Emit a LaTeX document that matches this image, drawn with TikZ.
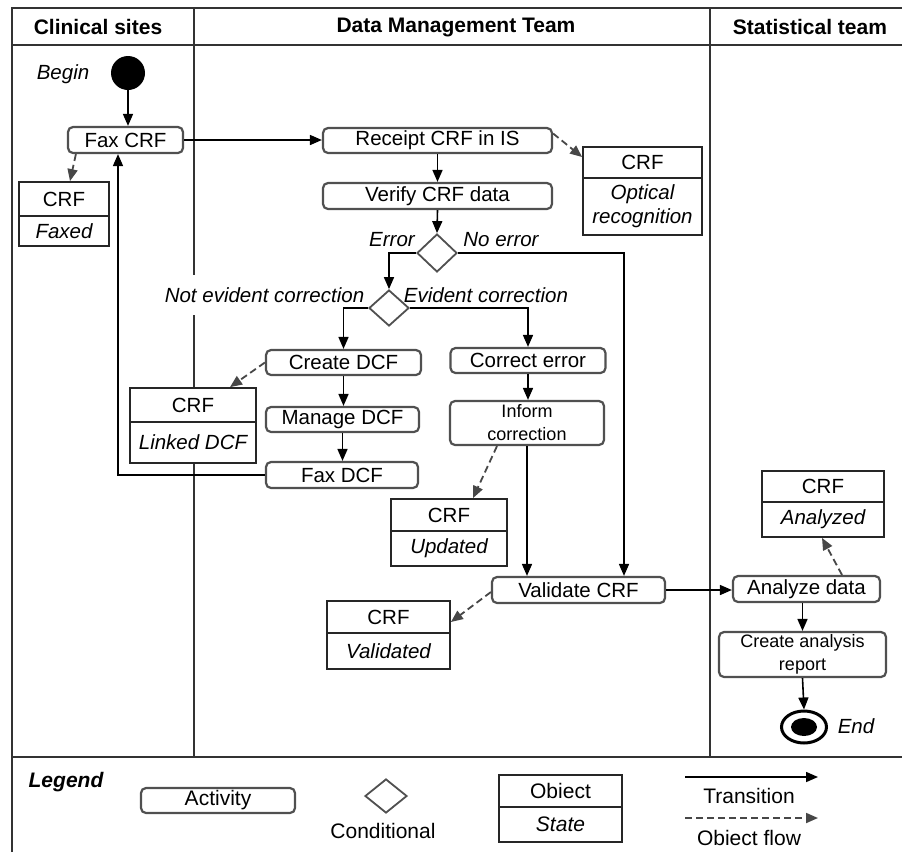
\documentclass[tikz,border=0pt]{standalone}
\usepackage{fontspec}
\setmainfont{Liberation Sans}
\usetikzlibrary{arrows.meta,shapes.geometric,calc}
\definecolor{boxgray}{HTML}{505050}
\definecolor{framec}{HTML}{333333}
\definecolor{dashc}{HTML}{474747}
\newcommand\fsm{\fontsize{20.5}{24}\selectfont}
\newcommand\fsh{\fontsize{21}{24}\selectfont}
\newcommand\fss{\fontsize{18}{23}\selectfont}
\begin{document}
\begin{tikzpicture}[x=1pt,y=-1pt,
 act/.style={draw=boxgray,line width=2.2pt,rounded corners=5pt,fill=white,inner sep=0pt,font=\fsm,align=center},
 objbox/.style={draw=black!85,line width=1.8pt,fill=white,inner sep=0pt,font=\fsm,align=center},
 dec/.style={diamond,draw=boxgray,line width=1.8pt,fill=white,inner sep=0pt},
 tr/.style={-{Triangle[length=12pt,width=10pt]},line width=1.6pt,black},
 of/.style={-{Triangle[length=12pt,width=10pt]},line width=1.8pt,dashc,dash pattern=on 7pt off 4pt},
 lbl/.style={font=\fsm\itshape,inner sep=1pt},
 lane/.style={line width=1.8pt,framec},
 hdr/.style={font=\fsh\bfseries,inner sep=0pt},
]
\useasboundingbox[fill=white] (0,0) rectangle (902,852);

% frame and lanes
\draw[lane] (12,852) -- (12,8) -- (902,8);
\draw[lane] (12,45) -- (902,45);
\draw[lane] (12,757) -- (902,757);
\draw[lane] (194,8) -- (194,757);
\draw[lane] (710,8) -- (710,757);

\node[hdr] (h1) at (98,27) {Clinical sites};
\node[hdr] (h2) at (456,27) {Data Management Team};
\node[hdr] (h3) at (810,27) {Statistical team};

% begin
\node[circle,fill=black,minimum size=34pt,inner sep=0pt] (begin) at (128,73) {};
\node[lbl] (beginl) at (63,74) {Begin};

% activities
\node[act,minimum width=115pt,minimum height=26pt] (faxcrf) at (125.5,140) {Fax CRF};
\node[act,minimum width=229pt,minimum height=25pt] (receipt) at (437.5,140.5) {Receipt CRF in IS};
\node[act,minimum width=229pt,minimum height=26pt] (verify) at (437.5,196) {Verify CRF data};
\node[act,minimum width=155pt,minimum height=25pt] (createdcf) at (343.5,362.5) {Create DCF};
\node[act,minimum width=155pt,minimum height=25pt] (correct) at (528,360.5) {Correct error};
\node[act,minimum width=154pt,minimum height=44pt,font=\fss] (inform) at (527,423) {Inform\\correction};
\node[act,minimum width=153pt,minimum height=25pt] (manage) at (342.5,419.5) {Manage DCF};
\node[act,minimum width=152pt,minimum height=26pt] (faxdcf) at (342,475) {Fax DCF};
\node[act,minimum width=173pt,minimum height=26pt] (validate) at (578.5,590) {Validate CRF};
\node[act,minimum width=147pt,minimum height=26pt] (analyze) at (806.5,589) {Analyze data};
\node[act,minimum width=167pt,minimum height=45pt,font=\fss] (report) at (802.5,654.5) {Create analysis\\report};

% decisions
\node[dec,minimum width=40pt,minimum height=38pt] (d1) at (437,253) {};
\node[dec,minimum width=40pt,minimum height=36pt] (d2) at (389,308) {};

% objects
\node[objbox,minimum width=90pt,minimum height=34pt] (faxedA) at (64,199) {CRF};
\node[objbox,minimum width=90pt,minimum height=30pt,font=\fsm\itshape] (faxedB) at (64,231) {Faxed};
\node[objbox,minimum width=119pt,minimum height=31pt] (opticalA) at (642.5,162.5) {CRF};
\node[objbox,minimum width=119pt,minimum height=57pt,font=\fsm\itshape] (opticalB) at (642.5,206.5) {Optical\\recognition};
\node[objbox,minimum width=126pt,minimum height=34pt] (linkedA) at (193,405) {CRF};
\node[objbox,minimum width=126pt,minimum height=41pt,font=\fsm\itshape] (linkedB) at (193,442.5) {Linked DCF};
\node[objbox,minimum width=116pt,minimum height=32pt] (updatedA) at (449,515) {CRF};
\node[objbox,minimum width=116pt,minimum height=35pt,font=\fsm\itshape] (updatedB) at (449,548.5) {Updated};
\node[objbox,minimum width=123pt,minimum height=32pt] (validatedA) at (388.5,617) {CRF};
\node[objbox,minimum width=123pt,minimum height=36pt,font=\fsm\itshape] (validatedB) at (388.5,651) {Validated};
\node[objbox,minimum width=122pt,minimum height=31pt] (analyzedA) at (823,486.5) {CRF};
\node[objbox,minimum width=122pt,minimum height=35pt,font=\fsm\itshape] (analyzedB) at (823,519.5) {Analyzed};

% end
\node[ellipse,draw=black,line width=3pt,minimum width=45pt,minimum height=32pt,inner sep=0pt,fill=white] (endo) at (804,727) {};
\node[ellipse,fill=black,minimum width=26pt,minimum height=18pt,inner sep=0pt] (endi) at (804,727) {};
\node[lbl] (endl) at (856,726) {End};

% labels
\node[lbl] (errl) at (392,240) {Error};
\node[lbl] (noerrl) at (501,240) {No error};
\node[lbl,fill=white,inner xsep=2pt,inner ysep=12pt] (notev) at (264.5,295) {Not evident correction};
\node[lbl] (ev) at (486,295) {Evident correction};

% transitions
\draw[tr] (begin.south) -- (begin.south |- faxcrf.north);
\draw[tr] (faxcrf.east) -- (receipt.west |- faxcrf.east);
\draw[tr] (receipt.south) -- (receipt.south |- verify.north);
\draw[tr] (verify.south) -- (d1.north);
\draw[tr] (d1.west) -| (d2.north);
\coordinate (nx) at ([xshift=45.5pt]validate.north);
\draw[tr] (d1.east) -| (nx);
\draw[tr] (d2.west) -| (createdcf.north);
\draw[tr] (d2.east) -| (correct.north);
\draw[tr] (correct.south) -- (correct.south |- inform.north);
\draw[tr] (inform.south) -- (inform.south |- validate.north);
\draw[tr] (createdcf.south) -- (createdcf.south |- manage.north);
\draw[tr] (manage.south) -- (manage.south |- faxdcf.north);
\draw[tr] (faxdcf.west) -| ([xshift=-7.5pt]faxcrf.south);
\draw[tr] (validate.east) -- (analyze.west |- validate.east);
\draw[tr] (report.north |- analyze.south) -- (report.north);
\draw[tr] (report.south) -- (endo.north);

% object flows
\draw[of] ([xshift=9pt]faxcrf.south west) -- ([xshift=6pt]faxedA.north);
\draw[of] ([yshift=7pt]receipt.east) -- ([yshift=5.5pt]opticalA.west);
\draw[of] (createdcf.west) -- ([xshift=37pt]linkedA.north);
\draw[of] ([xshift=-30pt]inform.south) -- ([xshift=24pt]updatedA.north);
\draw[of] ([yshift=-2pt]validate.west) -- ([yshift=-5pt]validatedA.east);
\draw[of] ([xshift=35.5pt]analyze.north) -- ([xshift=-1pt]analyzedB.south);

% legend
\node[font=\fsh\bfseries\itshape,inner sep=0pt] (legend) at (66,782) {Legend};
\node[act,minimum width=154pt,minimum height=25pt,font=\fsh] (lact) at (218,800.5) {Activity};
\node[dec,minimum width=42pt,minimum height=34pt] (ldec) at (386,796) {};
\node[font=\fsh,inner sep=0pt] (lcond) at (383,831) {Conditional};
\node[objbox,minimum width=123pt,minimum height=32pt,font=\fsh] (lobjA) at (560.5,791) {Obiect};
\node[objbox,minimum width=123pt,minimum height=35pt,font=\fsh\itshape] (lobjB) at (560.5,824.5) {State};
\coordinate (lt1) at (685,777);
\coordinate (lt2) at (818,777);
\draw[tr] (lt1) -- (lt2);
\node[font=\fsh,inner sep=0pt] (ltr) at (749,796) {Transition};
\coordinate (lo1) at (685,818);
\coordinate (lo2) at (818,818);
\draw[of] (lo1) -- (lo2);
\node[font=\fsh,inner sep=0pt] (lof) at (749,838) {Obiect flow};
\end{tikzpicture}
\end{document}
